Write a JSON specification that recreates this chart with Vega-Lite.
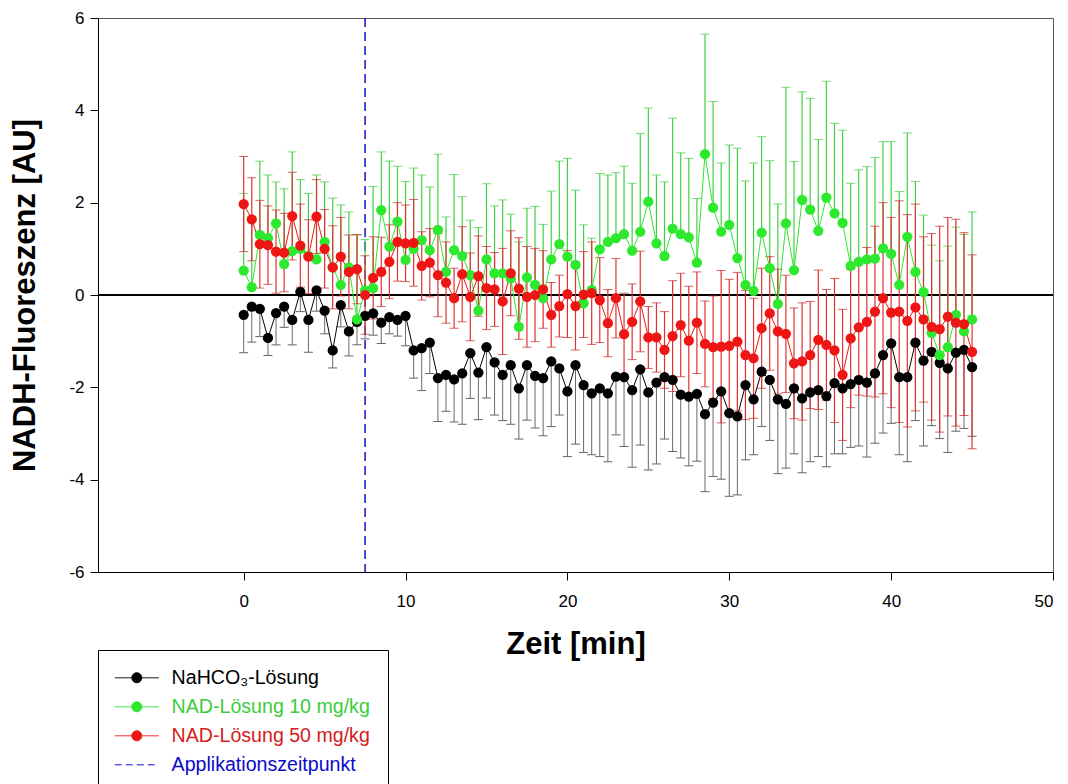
{
  "$schema": "https://vega.github.io/schema/vega-lite/v6.json",
  "width": 955,
  "height": 554,
  "autosize": {"type": "none"},
  "padding": {"left": 98, "top": 18, "right": 15, "bottom": 212},
  "background": "white",
  "config": {
    "font": "Liberation Sans",
    "view": {"stroke": "#555555", "strokeWidth": 1},
    "axis": {
      "domainColor": "#000000", "tickColor": "#000000", "labelColor": "#000000", "titleColor": "#000000",
      "labelFont": "Liberation Sans", "titleFont": "Liberation Sans",
      "labelFontSize": 17, "titleFontSize": 31, "titleFontWeight": "bold",
      "tickSize": 8, "grid": false, "domainWidth": 1, "tickWidth": 1
    },
    "axisX": {"labelPadding": 13, "titlePadding": 20},
    "axisY": {"labelPadding": 6, "titlePadding": 27},
    "legend": {
      "orient": "none", "legendX": 0, "legendY": 632,
      "padding": 18, "strokeColor": "#000000", "fillColor": "#ffffff",
      "labelFont": "Liberation Sans", "labelFontSize": 19.6, "labelLimit": 400,
      "symbolSize": 100, "symbolOffset": 11, "labelOffset": 25, "rowPadding": 8,
      "symbolStrokeWidth": 1
    }
  },
  "data": {"values": [
    {"s":"NaHCO₃-Lösung","t":0,"m":-0.43,"up":0,"dn":-0.82},
    {"s":"NaHCO₃-Lösung","t":0.5,"m":-0.25,"up":0,"dn":-0.77},
    {"s":"NaHCO₃-Lösung","t":1,"m":-0.30,"up":0,"dn":-0.60},
    {"s":"NaHCO₃-Lösung","t":1.5,"m":-0.93,"up":0,"dn":-0.38},
    {"s":"NaHCO₃-Lösung","t":2,"m":-0.39,"up":0,"dn":-0.69},
    {"s":"NaHCO₃-Lösung","t":2.5,"m":-0.25,"up":0,"dn":-0.45},
    {"s":"NaHCO₃-Lösung","t":3,"m":-0.54,"up":0,"dn":-0.54},
    {"s":"NaHCO₃-Lösung","t":3.5,"m":0.07,"up":0,"dn":-0.43},
    {"s":"NaHCO₃-Lösung","t":4,"m":-0.54,"up":0,"dn":-0.70},
    {"s":"NaHCO₃-Lösung","t":4.5,"m":0.10,"up":0,"dn":-0.45},
    {"s":"NaHCO₃-Lösung","t":5,"m":-0.34,"up":0,"dn":-0.50},
    {"s":"NaHCO₃-Lösung","t":5.5,"m":-1.20,"up":0,"dn":-0.38},
    {"s":"NaHCO₃-Lösung","t":6,"m":-0.22,"up":0,"dn":-0.47},
    {"s":"NaHCO₃-Lösung","t":6.5,"m":-0.79,"up":0,"dn":-0.53},
    {"s":"NaHCO₃-Lösung","t":7,"m":-0.58,"up":0,"dn":-0.50},
    {"s":"NaHCO₃-Lösung","t":7.5,"m":-0.45,"up":0,"dn":-0.50},
    {"s":"NaHCO₃-Lösung","t":8,"m":-0.40,"up":0,"dn":-0.47},
    {"s":"NaHCO₃-Lösung","t":8.5,"m":-0.60,"up":0,"dn":-0.45},
    {"s":"NaHCO₃-Lösung","t":9,"m":-0.48,"up":0,"dn":-0.36},
    {"s":"NaHCO₃-Lösung","t":9.5,"m":-0.54,"up":0,"dn":-0.35},
    {"s":"NaHCO₃-Lösung","t":10,"m":-0.45,"up":0,"dn":-0.65},
    {"s":"NaHCO₃-Lösung","t":10.5,"m":-1.20,"up":0,"dn":-0.60},
    {"s":"NaHCO₃-Lösung","t":11,"m":-1.15,"up":0,"dn":-0.92},
    {"s":"NaHCO₃-Lösung","t":11.5,"m":-1.03,"up":0,"dn":-0.67},
    {"s":"NaHCO₃-Lösung","t":12,"m":-1.80,"up":0,"dn":-0.94},
    {"s":"NaHCO₃-Lösung","t":12.5,"m":-1.73,"up":0,"dn":-0.79},
    {"s":"NaHCO₃-Lösung","t":13,"m":-1.83,"up":0,"dn":-0.92},
    {"s":"NaHCO₃-Lösung","t":13.5,"m":-1.70,"up":0,"dn":-1.10},
    {"s":"NaHCO₃-Lösung","t":14,"m":-1.26,"up":0,"dn":-0.98},
    {"s":"NaHCO₃-Lösung","t":14.5,"m":-1.68,"up":0,"dn":-1.02},
    {"s":"NaHCO₃-Lösung","t":15,"m":-1.13,"up":0,"dn":-1.10},
    {"s":"NaHCO₃-Lösung","t":15.5,"m":-1.46,"up":0,"dn":-1.14},
    {"s":"NaHCO₃-Lösung","t":16,"m":-1.73,"up":0,"dn":-0.99},
    {"s":"NaHCO₃-Lösung","t":16.5,"m":-1.52,"up":0,"dn":-1.28},
    {"s":"NaHCO₃-Lösung","t":17,"m":-2.02,"up":0,"dn":-1.10},
    {"s":"NaHCO₃-Lösung","t":17.5,"m":-1.52,"up":0,"dn":-1.19},
    {"s":"NaHCO₃-Lösung","t":18,"m":-1.75,"up":0,"dn":-1.13},
    {"s":"NaHCO₃-Lösung","t":18.5,"m":-1.80,"up":0,"dn":-1.25},
    {"s":"NaHCO₃-Lösung","t":19,"m":-1.44,"up":0,"dn":-1.41},
    {"s":"NaHCO₃-Lösung","t":19.5,"m":-1.59,"up":0,"dn":-1.01},
    {"s":"NaHCO₃-Lösung","t":20,"m":-2.09,"up":0,"dn":-1.41},
    {"s":"NaHCO₃-Lösung","t":20.5,"m":-1.52,"up":0,"dn":-1.71},
    {"s":"NaHCO₃-Lösung","t":21,"m":-1.95,"up":0,"dn":-1.46},
    {"s":"NaHCO₃-Lösung","t":21.5,"m":-2.13,"up":0,"dn":-1.33},
    {"s":"NaHCO₃-Lösung","t":22,"m":-2.02,"up":0,"dn":-1.48},
    {"s":"NaHCO₃-Lösung","t":22.5,"m":-2.13,"up":0,"dn":-1.48},
    {"s":"NaHCO₃-Lösung","t":23,"m":-1.77,"up":0,"dn":-1.26},
    {"s":"NaHCO₃-Lösung","t":23.5,"m":-1.78,"up":0,"dn":-1.50},
    {"s":"NaHCO₃-Lösung","t":24,"m":-2.06,"up":0,"dn":-1.67},
    {"s":"NaHCO₃-Lösung","t":24.5,"m":-1.61,"up":0,"dn":-1.64},
    {"s":"NaHCO₃-Lösung","t":25,"m":-2.11,"up":0,"dn":-1.68},
    {"s":"NaHCO₃-Lösung","t":25.5,"m":-1.90,"up":0,"dn":-1.76},
    {"s":"NaHCO₃-Lösung","t":26,"m":-1.78,"up":0,"dn":-1.34},
    {"s":"NaHCO₃-Lösung","t":26.5,"m":-1.84,"up":0,"dn":-1.55},
    {"s":"NaHCO₃-Lösung","t":27,"m":-2.16,"up":0,"dn":-1.37},
    {"s":"NaHCO₃-Lösung","t":27.5,"m":-2.20,"up":0,"dn":-1.50},
    {"s":"NaHCO₃-Lösung","t":28,"m":-2.14,"up":0,"dn":-1.46},
    {"s":"NaHCO₃-Lösung","t":28.5,"m":-2.58,"up":0,"dn":-1.68},
    {"s":"NaHCO₃-Lösung","t":29,"m":-2.33,"up":0,"dn":-1.60},
    {"s":"NaHCO₃-Lösung","t":29.5,"m":-2.09,"up":0,"dn":-1.90},
    {"s":"NaHCO₃-Lösung","t":30,"m":-2.56,"up":0,"dn":-1.80},
    {"s":"NaHCO₃-Lösung","t":30.5,"m":-2.63,"up":0,"dn":-1.70},
    {"s":"NaHCO₃-Lösung","t":31,"m":-1.95,"up":0,"dn":-1.62},
    {"s":"NaHCO₃-Lösung","t":31.5,"m":-2.26,"up":0,"dn":-1.20},
    {"s":"NaHCO₃-Lösung","t":32,"m":-1.66,"up":0,"dn":-1.19},
    {"s":"NaHCO₃-Lösung","t":32.5,"m":-1.84,"up":0,"dn":-1.31},
    {"s":"NaHCO₃-Lösung","t":33,"m":-2.26,"up":0,"dn":-1.61},
    {"s":"NaHCO₃-Lösung","t":33.5,"m":-2.36,"up":0,"dn":-1.39},
    {"s":"NaHCO₃-Lösung","t":34,"m":-2.02,"up":0,"dn":-1.42},
    {"s":"NaHCO₃-Lösung","t":34.5,"m":-2.24,"up":0,"dn":-1.61},
    {"s":"NaHCO₃-Lösung","t":35,"m":-2.11,"up":0,"dn":-1.50},
    {"s":"NaHCO₃-Lösung","t":35.5,"m":-2.06,"up":0,"dn":-1.44},
    {"s":"NaHCO₃-Lösung","t":36,"m":-2.19,"up":0,"dn":-1.53},
    {"s":"NaHCO₃-Lösung","t":36.5,"m":-1.91,"up":0,"dn":-1.53},
    {"s":"NaHCO₃-Lösung","t":37,"m":-2.02,"up":0,"dn":-1.42},
    {"s":"NaHCO₃-Lösung","t":37.5,"m":-1.93,"up":0,"dn":-1.37},
    {"s":"NaHCO₃-Lösung","t":38,"m":-1.84,"up":0,"dn":-1.43},
    {"s":"NaHCO₃-Lösung","t":38.5,"m":-1.90,"up":0,"dn":-1.61},
    {"s":"NaHCO₃-Lösung","t":39,"m":-1.70,"up":0,"dn":-1.51},
    {"s":"NaHCO₃-Lösung","t":39.5,"m":-1.30,"up":0,"dn":-1.69},
    {"s":"NaHCO₃-Lösung","t":40,"m":-1.05,"up":0,"dn":-1.73},
    {"s":"NaHCO₃-Lösung","t":40.5,"m":-1.78,"up":0,"dn":-1.68},
    {"s":"NaHCO₃-Lösung","t":41,"m":-1.78,"up":0,"dn":-1.83},
    {"s":"NaHCO₃-Lösung","t":41.5,"m":-1.03,"up":0,"dn":-1.69},
    {"s":"NaHCO₃-Lösung","t":42,"m":-1.42,"up":0,"dn":-1.85},
    {"s":"NaHCO₃-Lösung","t":42.5,"m":-1.23,"up":0,"dn":-1.60},
    {"s":"NaHCO₃-Lösung","t":43,"m":-1.47,"up":0,"dn":-1.64},
    {"s":"NaHCO₃-Lösung","t":43.5,"m":-1.59,"up":0,"dn":-1.82},
    {"s":"NaHCO₃-Lösung","t":44,"m":-1.25,"up":0,"dn":-1.70},
    {"s":"NaHCO₃-Lösung","t":44.5,"m":-1.19,"up":0,"dn":-1.70},
    {"s":"NaHCO₃-Lösung","t":45,"m":-1.56,"up":0,"dn":-1.50},

    {"s":"NAD-Lösung 10 mg/kg","t":0,"m":0.53,"up":1.67,"dn":0},
    {"s":"NAD-Lösung 10 mg/kg","t":0.5,"m":0.17,"up":1.53,"dn":0},
    {"s":"NAD-Lösung 10 mg/kg","t":1,"m":1.30,"up":1.60,"dn":0},
    {"s":"NAD-Lösung 10 mg/kg","t":1.5,"m":1.23,"up":1.37,"dn":0},
    {"s":"NAD-Lösung 10 mg/kg","t":2,"m":1.55,"up":0.90,"dn":0},
    {"s":"NAD-Lösung 10 mg/kg","t":2.5,"m":0.67,"up":1.63,"dn":0},
    {"s":"NAD-Lösung 10 mg/kg","t":3,"m":0.95,"up":2.15,"dn":0},
    {"s":"NAD-Lösung 10 mg/kg","t":3.5,"m":1.00,"up":1.50,"dn":0},
    {"s":"NAD-Lösung 10 mg/kg","t":4,"m":0.85,"up":1.35,"dn":0},
    {"s":"NAD-Lösung 10 mg/kg","t":4.5,"m":0.77,"up":1.83,"dn":0},
    {"s":"NAD-Lösung 10 mg/kg","t":5,"m":1.15,"up":1.30,"dn":0},
    {"s":"NAD-Lösung 10 mg/kg","t":5.5,"m":0.60,"up":1.50,"dn":0},
    {"s":"NAD-Lösung 10 mg/kg","t":6,"m":0.22,"up":1.73,"dn":0},
    {"s":"NAD-Lösung 10 mg/kg","t":6.5,"m":0.60,"up":1.20,"dn":0},
    {"s":"NAD-Lösung 10 mg/kg","t":7,"m":-0.53,"up":1.83,"dn":0},
    {"s":"NAD-Lösung 10 mg/kg","t":7.5,"m":0.10,"up":1.10,"dn":0},
    {"s":"NAD-Lösung 10 mg/kg","t":8,"m":0.15,"up":2.20,"dn":0},
    {"s":"NAD-Lösung 10 mg/kg","t":8.5,"m":1.84,"up":1.26,"dn":0},
    {"s":"NAD-Lösung 10 mg/kg","t":9,"m":1.05,"up":1.85,"dn":0},
    {"s":"NAD-Lösung 10 mg/kg","t":9.5,"m":1.59,"up":1.20,"dn":0},
    {"s":"NAD-Lösung 10 mg/kg","t":10,"m":0.76,"up":1.70,"dn":0},
    {"s":"NAD-Lösung 10 mg/kg","t":10.5,"m":1.00,"up":1.75,"dn":0},
    {"s":"NAD-Lösung 10 mg/kg","t":11,"m":1.19,"up":1.41,"dn":0},
    {"s":"NAD-Lösung 10 mg/kg","t":11.5,"m":0.97,"up":1.37,"dn":0},
    {"s":"NAD-Lösung 10 mg/kg","t":12,"m":1.41,"up":1.64,"dn":0},
    {"s":"NAD-Lösung 10 mg/kg","t":12.5,"m":0.50,"up":1.19,"dn":0},
    {"s":"NAD-Lösung 10 mg/kg","t":13,"m":0.97,"up":1.64,"dn":0},
    {"s":"NAD-Lösung 10 mg/kg","t":13.5,"m":0.85,"up":1.28,"dn":0},
    {"s":"NAD-Lösung 10 mg/kg","t":14,"m":0.43,"up":1.19,"dn":0},
    {"s":"NAD-Lösung 10 mg/kg","t":14.5,"m":-0.34,"up":1.80,"dn":0},
    {"s":"NAD-Lösung 10 mg/kg","t":15,"m":0.77,"up":1.64,"dn":0},
    {"s":"NAD-Lösung 10 mg/kg","t":15.5,"m":0.47,"up":1.46,"dn":0},
    {"s":"NAD-Lösung 10 mg/kg","t":16,"m":0.47,"up":1.59,"dn":0},
    {"s":"NAD-Lösung 10 mg/kg","t":16.5,"m":0.36,"up":1.39,"dn":0},
    {"s":"NAD-Lösung 10 mg/kg","t":17,"m":-0.69,"up":1.84,"dn":0},
    {"s":"NAD-Lösung 10 mg/kg","t":17.5,"m":0.38,"up":1.50,"dn":0},
    {"s":"NAD-Lösung 10 mg/kg","t":18,"m":0.22,"up":1.70,"dn":0},
    {"s":"NAD-Lösung 10 mg/kg","t":18.5,"m":-0.07,"up":1.60,"dn":0},
    {"s":"NAD-Lösung 10 mg/kg","t":19,"m":0.77,"up":1.48,"dn":0},
    {"s":"NAD-Lösung 10 mg/kg","t":19.5,"m":1.10,"up":1.80,"dn":0},
    {"s":"NAD-Lösung 10 mg/kg","t":20,"m":0.83,"up":2.13,"dn":0},
    {"s":"NAD-Lösung 10 mg/kg","t":20.5,"m":0.65,"up":1.62,"dn":0},
    {"s":"NAD-Lösung 10 mg/kg","t":21,"m":-0.18,"up":1.70,"dn":0},
    {"s":"NAD-Lösung 10 mg/kg","t":21.5,"m":0.11,"up":1.12,"dn":0},
    {"s":"NAD-Lösung 10 mg/kg","t":22,"m":0.99,"up":1.64,"dn":0},
    {"s":"NAD-Lösung 10 mg/kg","t":22.5,"m":1.15,"up":1.45,"dn":0},
    {"s":"NAD-Lösung 10 mg/kg","t":23,"m":1.23,"up":1.42,"dn":0},
    {"s":"NAD-Lösung 10 mg/kg","t":23.5,"m":1.32,"up":1.47,"dn":0},
    {"s":"NAD-Lösung 10 mg/kg","t":24,"m":0.96,"up":1.46,"dn":0},
    {"s":"NAD-Lösung 10 mg/kg","t":24.5,"m":1.37,"up":2.13,"dn":0},
    {"s":"NAD-Lösung 10 mg/kg","t":25,"m":2.02,"up":2.03,"dn":0},
    {"s":"NAD-Lösung 10 mg/kg","t":25.5,"m":1.12,"up":1.48,"dn":0},
    {"s":"NAD-Lösung 10 mg/kg","t":26,"m":0.84,"up":1.61,"dn":0},
    {"s":"NAD-Lösung 10 mg/kg","t":26.5,"m":1.44,"up":2.39,"dn":0},
    {"s":"NAD-Lösung 10 mg/kg","t":27,"m":1.32,"up":1.76,"dn":0},
    {"s":"NAD-Lösung 10 mg/kg","t":27.5,"m":1.25,"up":1.71,"dn":0},
    {"s":"NAD-Lösung 10 mg/kg","t":28,"m":0.70,"up":1.39,"dn":0},
    {"s":"NAD-Lösung 10 mg/kg","t":28.5,"m":3.05,"up":2.60,"dn":0},
    {"s":"NAD-Lösung 10 mg/kg","t":29,"m":1.89,"up":2.30,"dn":0},
    {"s":"NAD-Lösung 10 mg/kg","t":29.5,"m":1.37,"up":1.49,"dn":0},
    {"s":"NAD-Lösung 10 mg/kg","t":30,"m":1.52,"up":1.73,"dn":0},
    {"s":"NAD-Lösung 10 mg/kg","t":30.5,"m":0.80,"up":2.38,"dn":0},
    {"s":"NAD-Lösung 10 mg/kg","t":31,"m":0.22,"up":2.25,"dn":0},
    {"s":"NAD-Lösung 10 mg/kg","t":31.5,"m":0.09,"up":2.77,"dn":0},
    {"s":"NAD-Lösung 10 mg/kg","t":32,"m":1.35,"up":2.08,"dn":0},
    {"s":"NAD-Lösung 10 mg/kg","t":32.5,"m":0.58,"up":2.33,"dn":0},
    {"s":"NAD-Lösung 10 mg/kg","t":33,"m":-0.19,"up":2.16,"dn":0},
    {"s":"NAD-Lösung 10 mg/kg","t":33.5,"m":1.55,"up":2.95,"dn":0},
    {"s":"NAD-Lösung 10 mg/kg","t":34,"m":0.54,"up":2.35,"dn":0},
    {"s":"NAD-Lösung 10 mg/kg","t":34.5,"m":2.06,"up":2.34,"dn":0},
    {"s":"NAD-Lösung 10 mg/kg","t":35,"m":1.85,"up":2.41,"dn":0},
    {"s":"NAD-Lösung 10 mg/kg","t":35.5,"m":1.39,"up":1.98,"dn":0},
    {"s":"NAD-Lösung 10 mg/kg","t":36,"m":2.11,"up":2.52,"dn":0},
    {"s":"NAD-Lösung 10 mg/kg","t":36.5,"m":1.77,"up":1.95,"dn":0},
    {"s":"NAD-Lösung 10 mg/kg","t":37,"m":1.56,"up":2.01,"dn":0},
    {"s":"NAD-Lösung 10 mg/kg","t":37.5,"m":0.63,"up":1.79,"dn":0},
    {"s":"NAD-Lösung 10 mg/kg","t":38,"m":0.72,"up":1.99,"dn":0},
    {"s":"NAD-Lösung 10 mg/kg","t":38.5,"m":0.77,"up":2.01,"dn":0},
    {"s":"NAD-Lösung 10 mg/kg","t":39,"m":0.79,"up":2.19,"dn":0},
    {"s":"NAD-Lösung 10 mg/kg","t":39.5,"m":1.01,"up":2.31,"dn":0},
    {"s":"NAD-Lösung 10 mg/kg","t":40,"m":0.89,"up":2.43,"dn":0},
    {"s":"NAD-Lösung 10 mg/kg","t":40.5,"m":0.22,"up":2.02,"dn":0},
    {"s":"NAD-Lösung 10 mg/kg","t":41,"m":1.26,"up":2.25,"dn":0},
    {"s":"NAD-Lösung 10 mg/kg","t":41.5,"m":0.50,"up":1.96,"dn":0},
    {"s":"NAD-Lösung 10 mg/kg","t":42,"m":0.06,"up":1.67,"dn":0},
    {"s":"NAD-Lösung 10 mg/kg","t":42.5,"m":-0.82,"up":1.90,"dn":0},
    {"s":"NAD-Lösung 10 mg/kg","t":43,"m":-1.30,"up":2.04,"dn":0},
    {"s":"NAD-Lösung 10 mg/kg","t":43.5,"m":-1.13,"up":2.19,"dn":0},
    {"s":"NAD-Lösung 10 mg/kg","t":44,"m":-0.43,"up":1.90,"dn":0},
    {"s":"NAD-Lösung 10 mg/kg","t":44.5,"m":-0.79,"up":2.10,"dn":0},
    {"s":"NAD-Lösung 10 mg/kg","t":45,"m":-0.53,"up":2.33,"dn":0},

    {"s":"NAD-Lösung 50 mg/kg","t":0,"m":1.97,"up":1.03,"dn":-1.03},
    {"s":"NAD-Lösung 50 mg/kg","t":0.5,"m":1.64,"up":0.90,"dn":-0.90},
    {"s":"NAD-Lösung 50 mg/kg","t":1,"m":1.10,"up":0.95,"dn":-0.95},
    {"s":"NAD-Lösung 50 mg/kg","t":1.5,"m":1.08,"up":0.85,"dn":-0.85},
    {"s":"NAD-Lösung 50 mg/kg","t":2,"m":0.94,"up":0.90,"dn":-0.90},
    {"s":"NAD-Lösung 50 mg/kg","t":2.5,"m":0.92,"up":0.85,"dn":-0.85},
    {"s":"NAD-Lösung 50 mg/kg","t":3,"m":1.71,"up":0.95,"dn":-0.95},
    {"s":"NAD-Lösung 50 mg/kg","t":3.5,"m":1.07,"up":0.90,"dn":-0.90},
    {"s":"NAD-Lösung 50 mg/kg","t":4,"m":0.83,"up":0.80,"dn":-0.80},
    {"s":"NAD-Lösung 50 mg/kg","t":4.5,"m":1.70,"up":0.80,"dn":-0.80},
    {"s":"NAD-Lösung 50 mg/kg","t":5,"m":1.00,"up":0.85,"dn":-0.85},
    {"s":"NAD-Lösung 50 mg/kg","t":5.5,"m":0.60,"up":0.90,"dn":-0.90},
    {"s":"NAD-Lösung 50 mg/kg","t":6,"m":0.83,"up":0.85,"dn":-0.85},
    {"s":"NAD-Lösung 50 mg/kg","t":6.5,"m":0.50,"up":0.80,"dn":-0.80},
    {"s":"NAD-Lösung 50 mg/kg","t":7,"m":0.56,"up":0.75,"dn":-0.75},
    {"s":"NAD-Lösung 50 mg/kg","t":7.5,"m":0.00,"up":0.85,"dn":-0.85},
    {"s":"NAD-Lösung 50 mg/kg","t":8,"m":0.37,"up":0.89,"dn":-0.89},
    {"s":"NAD-Lösung 50 mg/kg","t":8.5,"m":0.50,"up":0.75,"dn":-0.75},
    {"s":"NAD-Lösung 50 mg/kg","t":9,"m":0.72,"up":0.80,"dn":-0.80},
    {"s":"NAD-Lösung 50 mg/kg","t":9.5,"m":1.15,"up":0.85,"dn":-0.85},
    {"s":"NAD-Lösung 50 mg/kg","t":10,"m":1.12,"up":0.83,"dn":-0.83},
    {"s":"NAD-Lösung 50 mg/kg","t":10.5,"m":1.13,"up":0.94,"dn":-0.94},
    {"s":"NAD-Lösung 50 mg/kg","t":11,"m":0.63,"up":0.74,"dn":-0.74},
    {"s":"NAD-Lösung 50 mg/kg","t":11.5,"m":0.70,"up":0.74,"dn":-0.74},
    {"s":"NAD-Lösung 50 mg/kg","t":12,"m":0.43,"up":0.90,"dn":-0.90},
    {"s":"NAD-Lösung 50 mg/kg","t":12.5,"m":0.27,"up":0.88,"dn":-0.88},
    {"s":"NAD-Lösung 50 mg/kg","t":13,"m":-0.07,"up":0.65,"dn":-0.65},
    {"s":"NAD-Lösung 50 mg/kg","t":13.5,"m":0.45,"up":1.03,"dn":-1.03},
    {"s":"NAD-Lösung 50 mg/kg","t":14,"m":-0.04,"up":0.95,"dn":-0.95},
    {"s":"NAD-Lösung 50 mg/kg","t":14.5,"m":0.41,"up":0.87,"dn":-0.87},
    {"s":"NAD-Lösung 50 mg/kg","t":15,"m":0.15,"up":0.90,"dn":-0.90},
    {"s":"NAD-Lösung 50 mg/kg","t":15.5,"m":0.12,"up":0.80,"dn":-0.80},
    {"s":"NAD-Lösung 50 mg/kg","t":16,"m":-0.14,"up":1.15,"dn":-1.15},
    {"s":"NAD-Lösung 50 mg/kg","t":16.5,"m":0.47,"up":0.92,"dn":-0.92},
    {"s":"NAD-Lösung 50 mg/kg","t":17,"m":0.14,"up":1.10,"dn":-1.10},
    {"s":"NAD-Lösung 50 mg/kg","t":17.5,"m":-0.04,"up":1.09,"dn":-1.09},
    {"s":"NAD-Lösung 50 mg/kg","t":18,"m":0.00,"up":1.01,"dn":-1.01},
    {"s":"NAD-Lösung 50 mg/kg","t":18.5,"m":0.12,"up":0.84,"dn":-0.84},
    {"s":"NAD-Lösung 50 mg/kg","t":19,"m":-0.43,"up":0.70,"dn":-0.70},
    {"s":"NAD-Lösung 50 mg/kg","t":19.5,"m":-0.24,"up":0.67,"dn":-0.67},
    {"s":"NAD-Lösung 50 mg/kg","t":20,"m":0.02,"up":0.94,"dn":-0.94},
    {"s":"NAD-Lösung 50 mg/kg","t":20.5,"m":-0.24,"up":0.95,"dn":-0.95},
    {"s":"NAD-Lösung 50 mg/kg","t":21,"m":0.01,"up":0.93,"dn":-0.93},
    {"s":"NAD-Lösung 50 mg/kg","t":21.5,"m":0.04,"up":1.11,"dn":-1.11},
    {"s":"NAD-Lösung 50 mg/kg","t":22,"m":-0.11,"up":0.92,"dn":-0.92},
    {"s":"NAD-Lösung 50 mg/kg","t":22.5,"m":-0.61,"up":0.73,"dn":-0.73},
    {"s":"NAD-Lösung 50 mg/kg","t":23,"m":-0.07,"up":0.86,"dn":-0.86},
    {"s":"NAD-Lösung 50 mg/kg","t":23.5,"m":-0.85,"up":0.89,"dn":-0.89},
    {"s":"NAD-Lösung 50 mg/kg","t":24,"m":-0.58,"up":0.82,"dn":-0.82},
    {"s":"NAD-Lösung 50 mg/kg","t":24.5,"m":-0.14,"up":1.09,"dn":-1.09},
    {"s":"NAD-Lösung 50 mg/kg","t":25,"m":-0.92,"up":0.67,"dn":-0.67},
    {"s":"NAD-Lösung 50 mg/kg","t":25.5,"m":-0.92,"up":0.75,"dn":-0.75},
    {"s":"NAD-Lösung 50 mg/kg","t":26,"m":-1.19,"up":0.83,"dn":-0.83},
    {"s":"NAD-Lösung 50 mg/kg","t":26.5,"m":-0.89,"up":1.20,"dn":-1.20},
    {"s":"NAD-Lösung 50 mg/kg","t":27,"m":-0.65,"up":1.12,"dn":-1.12},
    {"s":"NAD-Lösung 50 mg/kg","t":27.5,"m":-0.99,"up":1.18,"dn":-1.18},
    {"s":"NAD-Lösung 50 mg/kg","t":28,"m":-0.60,"up":1.10,"dn":-1.10},
    {"s":"NAD-Lösung 50 mg/kg","t":28.5,"m":-1.06,"up":0.93,"dn":-0.93},
    {"s":"NAD-Lösung 50 mg/kg","t":29,"m":-1.13,"up":1.11,"dn":-1.11},
    {"s":"NAD-Lösung 50 mg/kg","t":29.5,"m":-1.12,"up":1.65,"dn":-1.65},
    {"s":"NAD-Lösung 50 mg/kg","t":30,"m":-1.10,"up":1.44,"dn":-1.44},
    {"s":"NAD-Lösung 50 mg/kg","t":30.5,"m":-1.01,"up":1.50,"dn":-1.50},
    {"s":"NAD-Lösung 50 mg/kg","t":31,"m":-1.30,"up":1.40,"dn":-1.40},
    {"s":"NAD-Lösung 50 mg/kg","t":31.5,"m":-1.37,"up":1.30,"dn":-1.30},
    {"s":"NAD-Lösung 50 mg/kg","t":32,"m":-0.72,"up":1.30,"dn":-1.30},
    {"s":"NAD-Lösung 50 mg/kg","t":32.5,"m":-0.40,"up":1.23,"dn":-1.23},
    {"s":"NAD-Lösung 50 mg/kg","t":33,"m":-0.79,"up":1.35,"dn":-1.35},
    {"s":"NAD-Lösung 50 mg/kg","t":33.5,"m":-0.84,"up":1.27,"dn":-1.27},
    {"s":"NAD-Lösung 50 mg/kg","t":34,"m":-1.48,"up":1.20,"dn":-1.20},
    {"s":"NAD-Lösung 50 mg/kg","t":34.5,"m":-1.44,"up":1.27,"dn":-1.27},
    {"s":"NAD-Lösung 50 mg/kg","t":35,"m":-1.30,"up":1.16,"dn":-1.16},
    {"s":"NAD-Lösung 50 mg/kg","t":35.5,"m":-0.97,"up":1.51,"dn":-1.51},
    {"s":"NAD-Lösung 50 mg/kg","t":36,"m":-1.08,"up":1.20,"dn":-1.20},
    {"s":"NAD-Lösung 50 mg/kg","t":36.5,"m":-1.20,"up":1.56,"dn":-1.56},
    {"s":"NAD-Lösung 50 mg/kg","t":37,"m":-1.73,"up":1.42,"dn":-1.42},
    {"s":"NAD-Lösung 50 mg/kg","t":37.5,"m":-0.94,"up":1.50,"dn":-1.50},
    {"s":"NAD-Lösung 50 mg/kg","t":38,"m":-0.70,"up":1.47,"dn":-1.47},
    {"s":"NAD-Lösung 50 mg/kg","t":38.5,"m":-0.58,"up":1.61,"dn":-1.61},
    {"s":"NAD-Lösung 50 mg/kg","t":39,"m":-0.36,"up":1.85,"dn":-1.85},
    {"s":"NAD-Lösung 50 mg/kg","t":39.5,"m":-0.07,"up":2.07,"dn":-2.07},
    {"s":"NAD-Lösung 50 mg/kg","t":40,"m":-0.38,"up":2.06,"dn":-2.06},
    {"s":"NAD-Lösung 50 mg/kg","t":40.5,"m":-0.36,"up":2.40,"dn":-2.40},
    {"s":"NAD-Lösung 50 mg/kg","t":41,"m":-0.56,"up":2.30,"dn":-2.30},
    {"s":"NAD-Lösung 50 mg/kg","t":41.5,"m":-0.27,"up":2.24,"dn":-2.24},
    {"s":"NAD-Lösung 50 mg/kg","t":42,"m":-0.53,"up":1.79,"dn":-1.79},
    {"s":"NAD-Lösung 50 mg/kg","t":42.5,"m":-0.69,"up":2.02,"dn":-2.02},
    {"s":"NAD-Lösung 50 mg/kg","t":43,"m":-0.74,"up":2.23,"dn":-2.23},
    {"s":"NAD-Lösung 50 mg/kg","t":43.5,"m":-0.47,"up":2.15,"dn":-2.15},
    {"s":"NAD-Lösung 50 mg/kg","t":44,"m":-0.60,"up":2.24,"dn":-2.24},
    {"s":"NAD-Lösung 50 mg/kg","t":44.5,"m":-0.63,"up":1.98,"dn":-1.98},
    {"s":"NAD-Lösung 50 mg/kg","t":45,"m":-1.23,"up":2.10,"dn":-2.10}
  ]},
  "layer": [
    {
      "mark": {"type": "rule", "color": "#000000", "strokeWidth": 1},
      "encoding": {
        "y": {"datum": 0, "type": "quantitative", "scale": {"domain": [-6, 6], "nice": false},
              "axis": {"values": [-6, -4, -2, 0, 2, 4, 6], "title": "NADH-Fluoreszenz [AU]", "labelExpr": "'' + datum.value"}}
      }
    },
    {
      "data": {"values": [{"t": 7.5, "s": "Applikationszeitpunkt"}]},
      "mark": {"type": "rule", "strokeWidth": 1.5, "strokeDash": [9, 5]},
      "encoding": {
        "x": {"field": "t", "type": "quantitative", "scale": {"domain": [-9, 50], "nice": false, "zero": false},
              "axis": {"values": [0, 10, 20, 30, 40, 50], "title": "Zeit [min]", "labelExpr": "'' + datum.value"}},
        "color": {
          "field": "s", "type": "nominal",
          "scale": {
            "domain": ["NaHCO₃-Lösung", "NAD-Lösung 10 mg/kg", "NAD-Lösung 50 mg/kg", "Applikationszeitpunkt"],
            "range": ["#000000", "#2ee82e", "#ee1515", "#1010cc"]
          },
          "legend": {
            "title": null,
            "encode": {
              "symbols": {
                "update": {
                  "shape": {"signal": "datum.value === 'Applikationszeitpunkt' ? 'M-4.4,0H4.4' : 'M-4.4,0H-1A1,1 0 1,1 1,0A1,1 0 1,1 -1,0M1,0H4.4'"},
                  "strokeDash": {"signal": "datum.value === 'Applikationszeitpunkt' ? [7, 4] : [1, 0]"},
                  "size": {"value": 100},
                  "fill": {"signal": "datum.value === 'NaHCO₃-Lösung' ? '#000000' : datum.value === 'NAD-Lösung 10 mg/kg' ? '#2ee82e' : datum.value === 'NAD-Lösung 50 mg/kg' ? '#ee1515' : '#1010cc'"},
                  "stroke": {"signal": "datum.value === 'NaHCO₃-Lösung' ? '#000000' : datum.value === 'NAD-Lösung 10 mg/kg' ? '#2ee82e' : datum.value === 'NAD-Lösung 50 mg/kg' ? '#ee1515' : '#1010cc'"},
                  "strokeWidth": {"value": 1},
                  "opacity": {"value": 1},
                  "fillOpacity": {"value": 1}
                }
              },
              "labels": {
                "update": {
                  "fill": {"signal": "datum.value === 'NaHCO₃-Lösung' ? '#000000' : datum.value === 'NAD-Lösung 10 mg/kg' ? '#3ccc3c' : datum.value === 'NAD-Lösung 50 mg/kg' ? '#d42020' : '#0a0ac8'"}
                }
              }
            }
          }
        }
      }
    },
    {
      "transform": [{"filter": {"field": "s", "equal": "NaHCO₃-Lösung"}}],
      "mark": {"type": "errorbar", "rule": {"color": "#6a6a6a", "strokeWidth": 1}, "ticks": {"color": "#222222", "size": 9}},
      "encoding": {
        "x": {"field": "t", "type": "quantitative", "scale": {"domain": [-9, 50], "nice": false, "zero": false},
              "axis": {"values": [0, 10, 20, 30, 40, 50], "title": "Zeit [min]", "labelExpr": "'' + datum.value"}},
        "y": {"field": "m", "type": "quantitative", "scale": {"domain": [-6, 6], "nice": false},
              "axis": {"values": [-6, -4, -2, 0, 2, 4, 6], "title": "NADH-Fluoreszenz [AU]", "labelExpr": "'' + datum.value"}},
        "yError": {"field": "up"},
        "yError2": {"field": "dn"}
      }
    },
    {
      "transform": [{"filter": {"field": "s", "equal": "NAD-Lösung 10 mg/kg"}}],
      "mark": {"type": "errorbar", "rule": {"color": "#40d040", "strokeWidth": 1.2}, "ticks": {"color": "#3ccc3c", "size": 9}},
      "encoding": {
        "x": {"field": "t", "type": "quantitative", "scale": {"domain": [-9, 50], "nice": false, "zero": false},
              "axis": {"values": [0, 10, 20, 30, 40, 50], "title": "Zeit [min]", "labelExpr": "'' + datum.value"}},
        "y": {"field": "m", "type": "quantitative", "scale": {"domain": [-6, 6], "nice": false},
              "axis": {"values": [-6, -4, -2, 0, 2, 4, 6], "title": "NADH-Fluoreszenz [AU]", "labelExpr": "'' + datum.value"}},
        "yError": {"field": "up"},
        "yError2": {"field": "dn"}
      }
    },
    {
      "transform": [{"filter": {"field": "s", "equal": "NAD-Lösung 50 mg/kg"}}],
      "mark": {"type": "errorbar", "rule": {"color": "#e03030", "strokeWidth": 1.2}, "ticks": {"color": "#c42020", "size": 9}},
      "encoding": {
        "x": {"field": "t", "type": "quantitative", "scale": {"domain": [-9, 50], "nice": false, "zero": false},
              "axis": {"values": [0, 10, 20, 30, 40, 50], "title": "Zeit [min]", "labelExpr": "'' + datum.value"}},
        "y": {"field": "m", "type": "quantitative", "scale": {"domain": [-6, 6], "nice": false},
              "axis": {"values": [-6, -4, -2, 0, 2, 4, 6], "title": "NADH-Fluoreszenz [AU]", "labelExpr": "'' + datum.value"}},
        "yError": {"field": "up"},
        "yError2": {"field": "dn"}
      }
    },
    {
      "mark": {"type": "line", "strokeWidth": 1},
      "encoding": {
        "x": {"field": "t", "type": "quantitative", "scale": {"domain": [-9, 50], "nice": false, "zero": false},
              "axis": {"values": [0, 10, 20, 30, 40, 50], "title": "Zeit [min]", "labelExpr": "'' + datum.value"}},
        "y": {"field": "m", "type": "quantitative", "scale": {"domain": [-6, 6], "nice": false},
              "axis": {"values": [-6, -4, -2, 0, 2, 4, 6], "title": "NADH-Fluoreszenz [AU]", "labelExpr": "'' + datum.value"}},
        "color": {"field": "s", "type": "nominal"}
      }
    },
    {
      "mark": {"type": "point", "filled": true, "size": 105, "opacity": 1},
      "encoding": {
        "x": {"field": "t", "type": "quantitative", "scale": {"domain": [-9, 50], "nice": false, "zero": false},
              "axis": {"values": [0, 10, 20, 30, 40, 50], "title": "Zeit [min]", "labelExpr": "'' + datum.value"}},
        "y": {"field": "m", "type": "quantitative", "scale": {"domain": [-6, 6], "nice": false},
              "axis": {"values": [-6, -4, -2, 0, 2, 4, 6], "title": "NADH-Fluoreszenz [AU]", "labelExpr": "'' + datum.value"}},
        "color": {"field": "s", "type": "nominal"}
      }
    }
  ]
}
